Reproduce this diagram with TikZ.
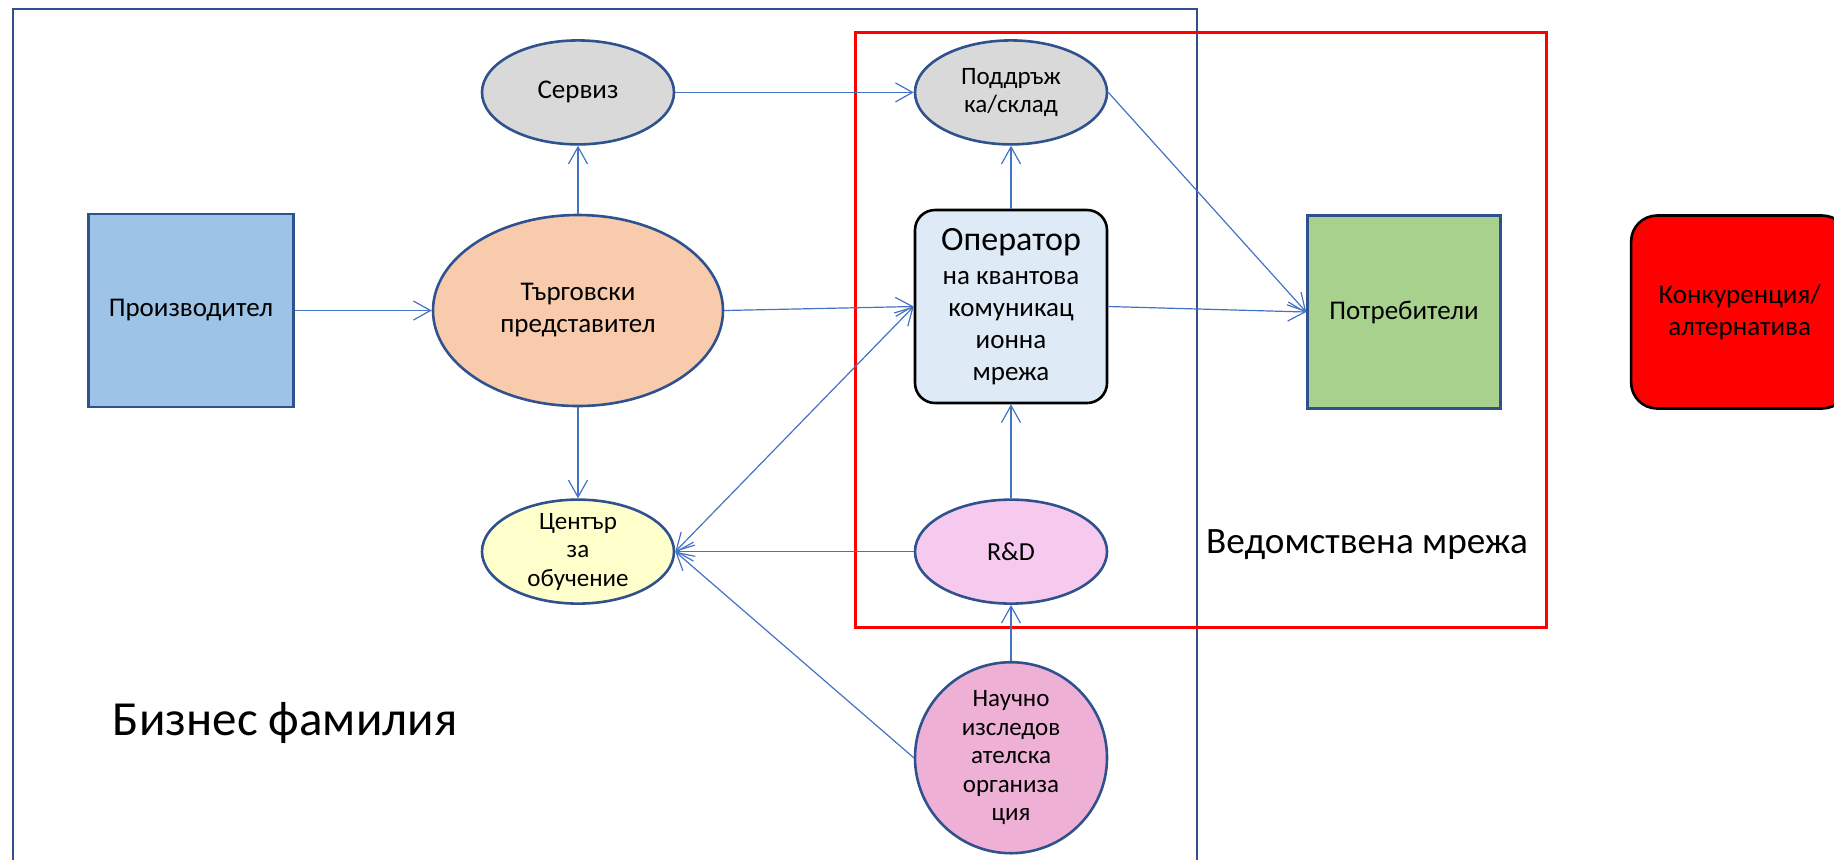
\documentclass[tikz,border=0pt]{standalone}
\usepackage{fontspec}
\setmainfont{Carlito}
\usepackage{xcolor}
\usepackage{tikz}
\usetikzlibrary{shapes,arrows.meta,positioning}

\definecolor{frameblue}{RGB}{47,82,143}
\definecolor{linkblue}{RGB}{68,114,196}
\definecolor{makerfill}{RGB}{157,195,230}
\definecolor{tradefill}{RGB}{248,203,173}
\definecolor{greyfill}{RGB}{217,217,217}
\definecolor{opfill}{RGB}{222,235,247}
\definecolor{usersfill}{RGB}{169,209,142}
\definecolor{trainfill}{RGB}{255,255,204}
\definecolor{rndfill}{RGB}{246,202,238}
\definecolor{scifill}{RGB}{239,176,214}

\begin{document}
\begin{tikzpicture}[
    x=0.5pt, y=-0.5pt,
    font=\fontsize{13.5}{16}\selectfont,
    >={Straight Barb[length=8.5pt,width=9.5pt]},
    box/.style={rectangle, draw=frameblue, line width=1.3pt, minimum width=96.5pt, minimum height=96.5pt, inner sep=0pt, align=center},
    oval/.style={ellipse, draw=frameblue, line width=1.3pt, minimum width=96pt, minimum height=52pt, inner sep=0pt, align=center},
    roundbox/.style={rectangle, rounded corners=10pt, draw=black, line width=1.3pt, minimum width=96pt, minimum height=96.5pt, inner sep=0pt, align=center},
    small/.style={font=\fontsize{12.5}{14.25}\selectfont},
    link/.style={draw=linkblue, line width=0.6pt, ->}
  ]
    \useasboundingbox (0,0) rectangle (1834,859);

    % frames
    \draw[frameblue, line width=1.3pt] (13,9) rectangle (1197,890);
    \draw[red, line width=1.5pt] (855,32) rectangle (1546,627);

    % business side
    \node[oval, fill=tradefill, minimum width=145pt, minimum height=95.5pt] (trade) at (578,310.5) {Търговски\\представител};
    \node[box, fill=makerfill, minimum width=102.5pt, left=68.5pt of trade] (maker) {Производител};
    \node[oval, fill=greyfill, above=34pt of trade] (service) {Сервиз};
    \node[oval, small, fill=trainfill, inner ysep=-2.5pt, below=45.5pt of trade] (training) {Център\\за\\обучение};

    % network side
    \node[roundbox, fill=opfill] (operator) at (1011,306.5) {{\fontsize{17}{20}\selectfont Оператор}\\[1pt]на квантова\\комуникац\\ионна\\мрежа};
    \node[oval, small, fill=greyfill, above=31.5pt of operator] (support) {Поддръж\\ка/склад};
    \node[oval, fill=rndfill, font=\fontsize{13}{15}\selectfont, below=47pt of operator] (rnd) {R\&D};
    \node[oval, small, fill=scifill, minimum height=95.5pt, inner ysep=-2pt, below=28pt of rnd] (science) {Научно\\изследов\\ателска\\организа\\ция};
    \node[box, fill=usersfill] (users) at (1404,312) {Потребители};
    \node[roundbox, fill=red, rounded corners=13pt, minimum width=108.5pt, right=64pt of users] (rival) {Конкуренция/\\алтернатива};

    \node[anchor=base, font=\fontsize{24.5}{29}\selectfont] (bizlabel) at (285,735) {Бизнес фамилия};
    \node[anchor=base, font=\fontsize{18.6}{22}\selectfont] (netlabel) at (1367,553) {Ведомствена мрежа};

    % connectors
    \draw[link] (maker) -- (trade);
    \draw[link] (trade.north) -- (service.south);
    \draw[link] (service.east) -- (support.west);
    \draw[link] (trade.east) -- (operator.west);
    \draw[link] (trade.south) -- (training.north);
    \draw[link] (operator.north) -- (support.south);
    \draw[link] (support.east) -- (users.west);
    \draw[link] (operator.east) -- (users.west);
    \draw[link] (rnd.north) -- (operator.south);
    \draw[link] (science.north) -- (rnd.south);
    \draw[link] (rnd.west) -- (training.east);
    \draw[link, <->] (training.east) -- (operator.west);
    \draw[link] (science.west) -- (training.east);
\end{tikzpicture}
\end{document}
